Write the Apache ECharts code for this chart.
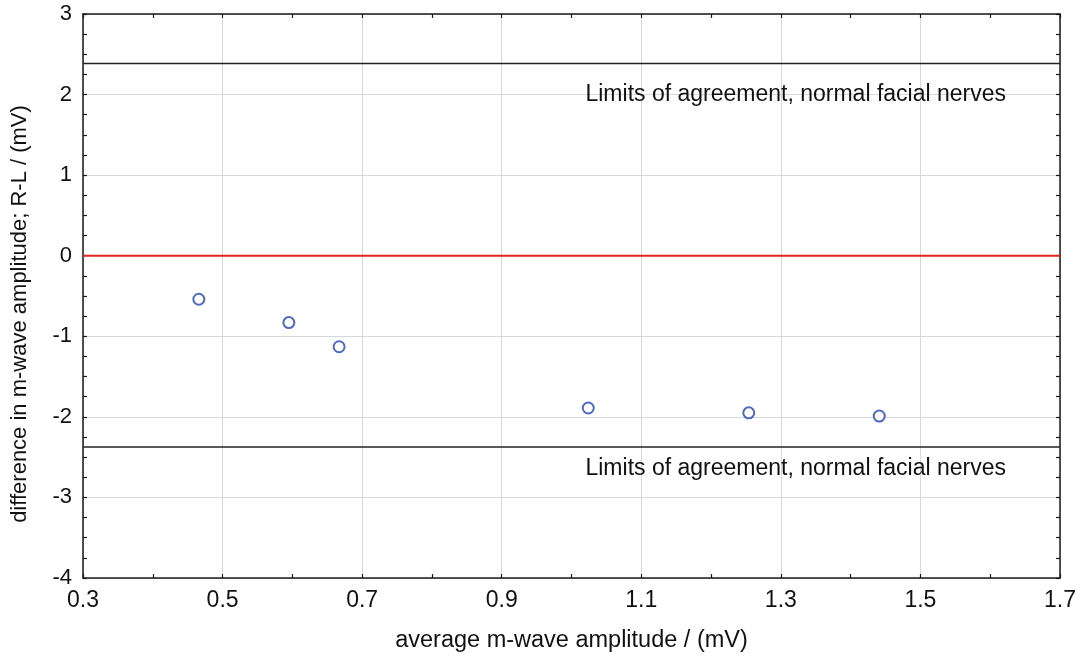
<!DOCTYPE html>
<html>
<head>
<meta charset="utf-8">
<script src="https://cdn.jsdelivr.net/npm/echarts@6/dist/echarts.min.js"></script>
<style>
  html, body { margin: 0; padding: 0; background: #ffffff; }
  #chart { width: 1085px; height: 660px; }
</style>
</head>
<body>
<div id="chart"></div>
<script>
// Bland-Altman style plot: right/left m-wave amplitude difference vs. average
const avgAmplitude = [0.466, 0.595, 0.667, 1.024, 1.254, 1.441];
const diffAmplitude = [-0.54, -0.83, -1.13, -1.89, -1.95, -1.99];

// Reference lines (mV)
const upperLimit = 2.385;
const lowerLimit = -2.375;
const meanDiff = 0;
const xRange = [0.3, 1.7];
const yRange = [-4, 3];

const limitsText = 'Limits of agreement, normal facial nerves';
const xTitle = 'average m-wave amplitude / (mV)';
const yTitle = 'difference in m-wave amplitude; R-L / (mV)';

const points = avgAmplitude.map((x, i) => [x, diffAmplitude[i]]);
const hLine = v => xRange.map(x => [x, v]);

const FONT = '"Liberation Sans", Arial, sans-serif';
const frameAxisLine = { show: true, onZero: false, lineStyle: { color: '#1a1a1a', width: 1.5 } };
const tickStyle = { show: true, inside: true, length: 4, lineStyle: { color: '#1a1a1a', width: 1.2 } };
const minorStyle = { show: true, length: 4, lineStyle: { color: '#1a1a1a', width: 1.2 } };
const gridLine = { show: true, lineStyle: { color: '#d4d8dc', width: 1 } };

const chart = echarts.init(document.getElementById('chart'), null, { renderer: 'canvas' });

const limitLabel = {
  show: true, position: 'right', distance: 0,
  formatter: limitsText, color: '#111', fontFamily: FONT, fontSize: 23
};

chart.setOption({
  backgroundColor: '#ffffff',
  animation: false,
  grid: { left: 83, right: 25, top: 14, bottom: 82, containLabel: false },
  xAxis: [
    {
      type: 'value', min: xRange[0], max: xRange[1], interval: 0.2,
      axisLine: frameAxisLine, axisTick: tickStyle,
      minorTick: Object.assign({ splitNumber: 2 }, minorStyle),
      splitLine: gridLine,
      axisLabel: {
        color: '#111', fontFamily: FONT, fontSize: 23, margin: 11,
        formatter: v => v.toFixed(1)
      },
      name: xTitle, nameLocation: 'middle', nameGap: 51,
      nameTextStyle: { color: '#111', fontFamily: FONT, fontSize: 23.5 }
    },
    {
      type: 'value', position: 'top', min: xRange[0], max: xRange[1], interval: 0.2,
      axisLine: frameAxisLine, axisTick: tickStyle,
      minorTick: Object.assign({ splitNumber: 2 }, minorStyle),
      splitLine: { show: false }, axisLabel: { show: false }
    }
  ],
  yAxis: [
    {
      type: 'value', min: yRange[0], max: yRange[1], interval: 1,
      axisLine: frameAxisLine, axisTick: tickStyle,
      minorTick: Object.assign({ splitNumber: 4 }, minorStyle),
      splitLine: gridLine,
      axisLabel: { color: '#111', fontFamily: FONT, fontSize: 22, margin: 11 },
      name: yTitle, nameLocation: 'middle', nameGap: 52, nameRotate: 90,
      nameTextStyle: { color: '#111', fontFamily: FONT, fontSize: 22, padding: [0, 36, 0, 0] }
    },
    {
      type: 'value', position: 'right', min: yRange[0], max: yRange[1], interval: 1,
      axisLine: frameAxisLine, axisTick: tickStyle,
      minorTick: Object.assign({ splitNumber: 4 }, minorStyle),
      splitLine: { show: false }, axisLabel: { show: false }
    }
  ],
  series: [
    {
      name: 'upper limit', type: 'line', data: hLine(upperLimit),
      symbol: 'none', lineStyle: { color: '#222', width: 1.5 }, z: 3,
      markPoint: {
        symbol: 'rect', symbolSize: 0, label: limitLabel,
        data: [{ coord: [1.02, 2.0] }]
      }
    },
    {
      name: 'lower limit', type: 'line', data: hLine(lowerLimit),
      symbol: 'none', lineStyle: { color: '#222', width: 1.5 }, z: 3,
      markPoint: {
        symbol: 'rect', symbolSize: 0, label: limitLabel,
        data: [{ coord: [1.02, -2.64] }]
      }
    },
    {
      name: 'mean', type: 'line', data: hLine(meanDiff),
      symbol: 'none', lineStyle: { color: '#e3261f', width: 2 }, z: 3
    },
    {
      name: 'nerves', type: 'scatter', data: points,
      symbol: 'circle', symbolSize: 11,
      itemStyle: { color: '#ffffff', borderColor: '#2444b0', borderWidth: 2 },
      z: 5
    }
  ]
});
</script>
</body>
</html>
